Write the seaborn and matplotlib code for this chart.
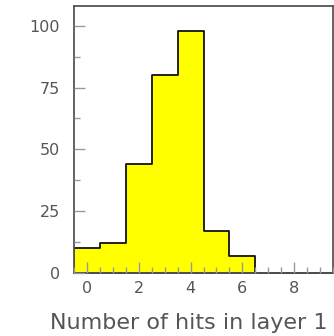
import numpy as np
import pandas as pd
import matplotlib
matplotlib.use("Agg")
import matplotlib.pyplot as plt
import seaborn as sns
from matplotlib.ticker import MultipleLocator

# data
hits = [0, 1, 2, 3, 4, 5, 6, 7, 8, 9]
counts = [10, 12, 44, 80, 98, 17, 7, 0, 0, 0]
xlabel = "Number of hits in layer 1"

sns.set_style("white")
plt.rcParams['font.family'] = ['DejaVu Sans']

df = pd.DataFrame({"hits": hits, "counts": counts})

fig = plt.figure(figsize=(3.34, 3.36), dpi=100)
ax = fig.add_axes([74/334, 63/336, 259/334, 267/336])

sns.histplot(data=df, x="hits", weights="counts", discrete=True,
             element="step", fill=True, color="#ffff00", alpha=1.0,
             edgecolor="#111111", linewidth=1.3, ax=ax)

ax.set_axisbelow(False)
ax.set_xlim(-0.5, 9.5)
ax.set_ylim(0, 108)
ax.xaxis.set_major_locator(MultipleLocator(2))
ax.xaxis.set_minor_locator(MultipleLocator(0.5))
ax.yaxis.set_major_locator(MultipleLocator(25))
ax.yaxis.set_minor_locator(MultipleLocator(12.5))
ax.tick_params(which="both", direction="in", colors="#999999",
               labelcolor="#555555", labelsize=11.5,
               bottom=True, left=True, top=False, right=False)
ax.tick_params(which="major", length=8, width=1.0)
ax.tick_params(which="minor", length=4, width=1.0)
ax.tick_params(axis="y", pad=10)
ax.tick_params(axis="x", pad=6)
for s in ax.spines.values():
    s.set_color("#555555")
    s.set_linewidth(1.3)
    s.set_visible(True)
ax.set_ylabel("")
ax.set_xlabel(xlabel, fontsize=16, color="#555555", ha="right")
ax.xaxis.set_label_coords((328 - 74) / 259, (273 - 329) / 267)
ax.xaxis.label.set_verticalalignment("baseline")

fig.savefig("out.png", dpi=100)
